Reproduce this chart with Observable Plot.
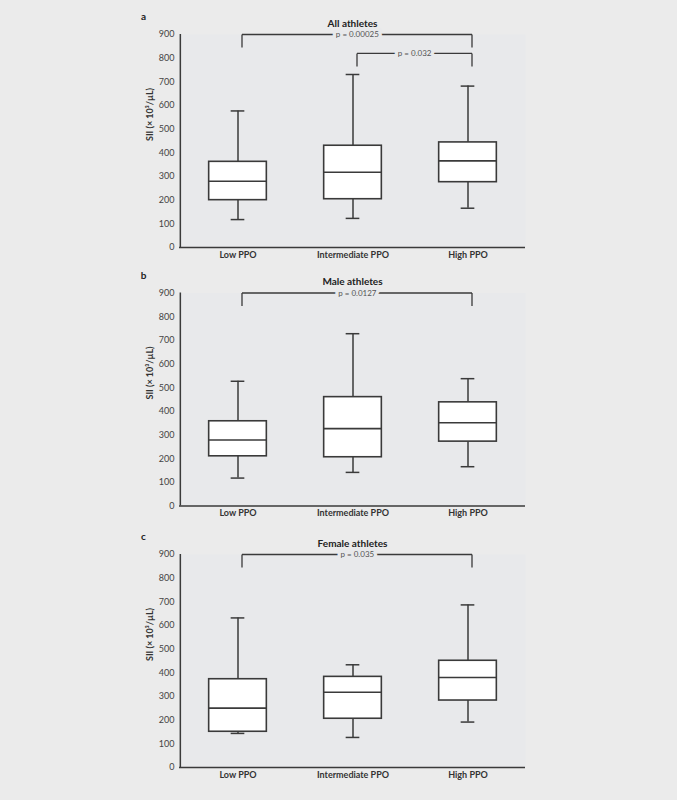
<!DOCTYPE html>
<html>
<head>
<meta charset="utf-8">
<script src="https://cdn.jsdelivr.net/npm/d3@7"></script>
<script src="https://cdn.jsdelivr.net/npm/@observablehq/plot@0.6"></script>
<style>
  html, body { margin: 0; padding: 0; background: #ebebeb; }
  #chart { width: 677px; }
  #chart svg { display: block; }
</style>
</head>
<body>
<div id="chart"></div>
<script>
// ---- data ----
const categories = ["Low PPO", "Intermediate PPO", "High PPO"];
const yTicks = [0, 100, 200, 300, 400, 500, 600, 700, 800, 900];
const yLabel = "SII (× 10³/µL)";

// Panel a: all athletes
const allWhiskerLow  = [118, 123, 166];
const allQ1          = [200, 204, 276];
const allMedian      = [280, 318, 366];
const allQ3          = [362, 430, 444];
const allWhiskerHigh = [577, 731, 682];
const allBracketFrom   = ["Low PPO", "Intermediate PPO"];
const allBracketTo     = ["High PPO", "High PPO"];
const allBracketTop    = [900, 820];
const allBracketBottom = [845, 765];
const allBracketLabel  = ["p = 0.00025", "p = 0.032"];

// Panel b: male athletes
const maleWhiskerLow  = [118, 142, 166];
const maleQ1          = [210, 206, 272];
const maleMedian      = [279, 327, 352];
const maleQ3          = [358, 460, 438];
const maleWhiskerHigh = [527, 728, 538];
const maleBracketFrom   = ["Low PPO"];
const maleBracketTo     = ["High PPO"];
const maleBracketTop    = [900];
const maleBracketBottom = [845];
const maleBracketLabel  = ["p = 0.0127"];

// Panel c: female athletes
const femaleWhiskerLow  = [144, 127, 192];
const femaleQ1          = [151, 206, 283];
const femaleMedian      = [251, 318, 380];
const femaleQ3          = [373, 383, 451];
const femaleWhiskerHigh = [632, 434, 687];
const femaleBracketFrom   = ["Low PPO"];
const femaleBracketTo     = ["High PPO"];
const femaleBracketTop    = [900];
const femaleBracketBottom = [845];
const femaleBracketLabel  = ["p = 0.035"];

// ---- layout / style ----
const W = 677, H = 260, ML = 179, MR = 152, FRAME_H = 213;
const step = (W - ML - MR) / categories.length;
const boxW = 58, capW = 14;
const boxInset = (step - boxW) / 2;
const capInset = (step - capW) / 2;
const INK = "#3a3a3a";
const PLOT_BG = "#e8e9eb";
const FONT = "Lato, 'Open Sans', sans-serif";
const bracketDx = 4;

function panel(cfg) {
  const rows = categories.map((c, i) => ({
    cat: c, lo: cfg.lo[i], q1: cfg.q1[i], med: cfg.med[i], q3: cfg.q3[i], hi: cfg.hi[i]
  }));
  const brackets = cfg.bFrom.map((f, i) => ({
    from: f, to: cfg.bTo[i], top: cfg.bTop[i], bottom: cfg.bBottom[i], label: cfg.bLabel[i],
    span: categories.indexOf(cfg.bTo[i]) - categories.indexOf(f)
  }));
  const mt = cfg.marginTop;
  const marks = [
    Plot.frame({fill: PLOT_BG, stroke: null}),
    // whiskers
    Plot.ruleX(rows, {x: "cat", y1: "lo", y2: "q1", stroke: INK, strokeWidth: 1.5}),
    Plot.ruleX(rows, {x: "cat", y1: "q3", y2: "hi", stroke: INK, strokeWidth: 1.5}),
    Plot.tickY(rows, {x: "cat", y: "lo", insetLeft: capInset, insetRight: capInset, stroke: INK, strokeWidth: 1.5}),
    Plot.tickY(rows, {x: "cat", y: "hi", insetLeft: capInset, insetRight: capInset, stroke: INK, strokeWidth: 1.5}),
    // boxes
    Plot.barY(rows, {x: "cat", y1: "q1", y2: "q3", fill: "white", stroke: INK, strokeWidth: 1.6, insetLeft: boxInset, insetRight: boxInset}),
    Plot.tickY(rows, {x: "cat", y: "med", insetLeft: boxInset, insetRight: boxInset, stroke: INK, strokeWidth: 1.6}),
  ];
  // brackets
  for (const b of brackets) {
    marks.push(
      Plot.link([b], {x1: "from", x2: "from", y1: "bottom", y2: "top", stroke: INK, strokeWidth: 1.3, dx: bracketDx}),
      Plot.link([b], {x1: "to", x2: "to", y1: "bottom", y2: "top", stroke: INK, strokeWidth: 1.3, dx: bracketDx}),
      Plot.link([b], {x1: "from", x2: "to", y1: "top", y2: "top", stroke: INK, strokeWidth: 1.3, dx: bracketDx}),
      Plot.text([b], {x: "from", y: "top", text: "label", dx: b.span * step / 2 + bracketDx,
        lineAnchor: "middle", fontSize: 8, fill: "#555", stroke: PLOT_BG, strokeWidth: 7, fontFamily: FONT})
    );
  }
  marks.push(
    // axis lines
    Plot.ruleY([0], {stroke: INK, strokeWidth: 1.5}),
    Plot.ruleX([categories[0]], {x: d => d, y1: 0, y2: 900, dx: -step / 2, stroke: INK, strokeWidth: 1.5}),
    Plot.axisY(yTicks, {tickSize: 0, tickPadding: 5, label: null, fontSize: 9, fill: "#444"}),
    Plot.axisX({tickSize: 0, tickPadding: 4, label: null, fontSize: 9, fontWeight: "bold", fill: "#333"}),
    // y label
    Plot.text([yLabel], {text: d => d, frameAnchor: "left", lineAnchor: "middle", rotate: -90, dx: -29, fontSize: 9, fontWeight: "bold", fill: "#333"}),
    // title and letter
    Plot.text([cfg.title], {text: d => d, frameAnchor: "top", lineAnchor: "middle", dy: -11, fontSize: 10, fontWeight: "bold", fill: "#222"}),
    Plot.text([cfg.letter], {text: d => d, frameAnchor: "top-left", lineAnchor: "middle", textAnchor: "middle", dx: -36, dy: -17.5, fontSize: 10, fontWeight: "bold", fill: "#222"})
  );
  return Plot.plot({
    width: W, height: H,
    marginLeft: ML, marginRight: MR, marginTop: mt, marginBottom: H - FRAME_H - mt,
    style: {background: "transparent", fontFamily: FONT, color: "#333"},
    x: {domain: categories, padding: 0, axis: null},
    y: {domain: [0, 900], axis: null},
    marks
  });
}

const chart = document.getElementById("chart");
chart.append(panel({
  letter: "a", title: "All athletes", marginTop: 34,
  lo: allWhiskerLow, q1: allQ1, med: allMedian, q3: allQ3, hi: allWhiskerHigh,
  bFrom: allBracketFrom, bTo: allBracketTo, bTop: allBracketTop, bBottom: allBracketBottom, bLabel: allBracketLabel
}));
chart.append(panel({
  letter: "b", title: "Male athletes", marginTop: 32.5,
  lo: maleWhiskerLow, q1: maleQ1, med: maleMedian, q3: maleQ3, hi: maleWhiskerHigh,
  bFrom: maleBracketFrom, bTo: maleBracketTo, bTop: maleBracketTop, bBottom: maleBracketBottom, bLabel: maleBracketLabel
}));
chart.append(panel({
  letter: "c", title: "Female athletes", marginTop: 34,
  lo: femaleWhiskerLow, q1: femaleQ1, med: femaleMedian, q3: femaleQ3, hi: femaleWhiskerHigh,
  bFrom: femaleBracketFrom, bTo: femaleBracketTo, bTop: femaleBracketTop, bBottom: femaleBracketBottom, bLabel: femaleBracketLabel
}));
</script>
</body>
</html>
